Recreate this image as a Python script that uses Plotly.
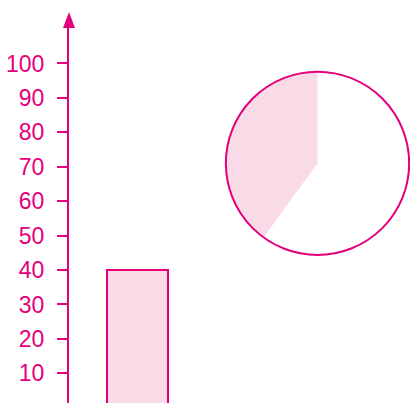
import plotly.graph_objects as go

# data
bar_categories = [0]
bar_values = [40]
pie_labels = ["rest", "share"]
pie_values = [60, 40]
tick_values = [10, 20, 30, 40, 50, 60, 70, 80, 90, 100]

MAGENTA = "#E4007C"
LIGHT = "#F9DBE7"

fig = go.Figure()

fig.add_trace(go.Bar(
    x=bar_categories, y=bar_values, width=1,
    marker=dict(color=LIGHT, line=dict(color=MAGENTA, width=2)),
    hoverinfo="skip", showlegend=False,
))

pie_domain = dict(x=[0.4595, 0.998], y=[0.3947, 0.8835])

# filled sector, no borders
fig.add_trace(go.Pie(
    labels=pie_labels, values=pie_values, sort=False,
    direction="clockwise", rotation=0,
    marker=dict(colors=["rgba(0,0,0,0)", LIGHT], line=dict(width=0)),
    textinfo="none", hoverinfo="skip", showlegend=False,
    domain=pie_domain,
))
# circle outline
fig.add_trace(go.Pie(
    labels=["all"], values=[sum(pie_values)],
    marker=dict(colors=["rgba(0,0,0,0)"], line=dict(color=MAGENTA, width=2)),
    textinfo="none", hoverinfo="skip", showlegend=False,
    domain=pie_domain,
))

fig.update_layout(
    width=410, height=403,
    margin=dict(l=69, r=0, t=28, b=0),
    paper_bgcolor="white", plot_bgcolor="white",
    font=dict(family="Liberation Sans, sans-serif", size=23, color=MAGENTA),
    xaxis=dict(range=[-1.123, 4.467], visible=False, fixedrange=True),
    yaxis=dict(
        range=[1.39, 110.3], tickvals=tick_values,
        showgrid=False, zeroline=False, automargin=False,
        showline=True, linecolor=MAGENTA, linewidth=2,
        ticks="outside", ticklen=10, tickwidth=2, tickcolor=MAGENTA,
        ticklabelstandoff=8,
        tickfont=dict(color=MAGENTA, size=23),
        fixedrange=True,
    ),
    shapes=[dict(
        type="path", xref="paper", yref="paper",
        xsizemode="pixel", ysizemode="pixel",
        xanchor=0, yanchor=1,
        path="M -6 0 L 6 0 L 0 16 Z",
        fillcolor=MAGENTA, line=dict(width=0),
    )],
)

fig.write_html("out.html", config=dict(displayModeBar=False),
               post_script="document.body.style.margin='0';")
